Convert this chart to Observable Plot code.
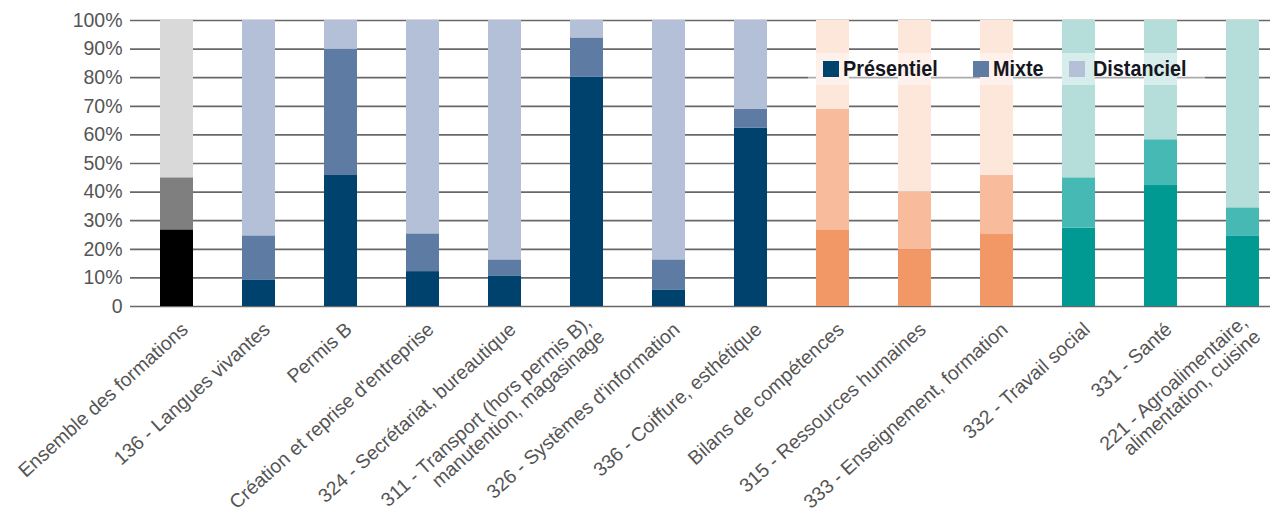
<!DOCTYPE html>
<html><head><meta charset="utf-8">
<script src="https://cdn.jsdelivr.net/npm/d3@7"></script>
<script src="https://cdn.jsdelivr.net/npm/@observablehq/plot@0.6"></script>
<style>
body{margin:0;background:#fff;}
#wrap{position:relative;width:1284px;height:521px;overflow:hidden;}
.legend{position:absolute;left:808px;top:53px;width:397px;height:32px;background:rgba(255,255,255,0.45);font-family:"Liberation Sans",Arial,sans-serif;font-weight:bold;font-size:22px;color:#15171f;}
.item{position:absolute;top:0;height:32px;display:flex;align-items:center;white-space:nowrap;}
.sw{width:16px;height:16px;margin-right:4px;flex:none;}
.tx{display:inline-block;transform:scaleX(0.9);transform-origin:left center;}
</style></head><body><div id="wrap"></div>
<script>
const categories = [
  "Ensemble des formations",
  "136 - Langues vivantes",
  "Permis B",
  "Création et reprise d'entreprise",
  "324 - Secrétariat, bureautique",
  "311 - Transport (hors permis B),\nmanutention, magasinage",
  "326 - Systèmes d'information",
  "336 - Coiffure, esthétique",
  "Bilans de compétences",
  "315 - Ressources humaines",
  "333 - Enseignement, formation",
  "332 - Travail social",
  "331 - Santé",
  "221 - Agroalimentaire,\nalimentation, cuisine"
];
const families = ["ensemble","bleu","bleu","bleu","bleu","bleu","bleu","bleu","orange","orange","orange","vert","vert","vert"];
const modes = ["Présentiel", "Mixte", "Distanciel"];
const presentiel = [26.8, 9.3, 45.8, 12.2, 10.7, 80.2, 5.8, 62.4, 26.8, 19.9, 25.4, 27.4, 42.3, 24.7];
const mixte      = [18.2, 15.4, 44.1, 13.2, 5.6, 13.7, 10.5, 6.5, 42.1, 20.1, 20.4, 17.6, 16.0, 9.8];
const distanciel = [55.0, 75.3, 10.1, 74.6, 83.7, 6.1, 83.7, 31.1, 31.1, 60.0, 54.2, 55.0, 41.7, 65.5];
const yTicks = [0, 10, 20, 30, 40, 50, 60, 70, 80, 90, 100];
const yTickLabels = ["0", "10%", "20%", "30%", "40%", "50%", "60%", "70%", "80%", "90%", "100%"];

const palette = {
  ensemble: ["#000000", "#7f7f7f", "#d9d9d9"],
  bleu: ["#00426e", "#5e7ca3", "#b4bfd8"],
  orange: ["#f29766", "#f8bc9c", "#fde6da"],
  vert: ["#009a92", "#47b9b4", "#b5dedb"]
};

const series = [presentiel, mixte, distanciel];
const table = [];
categories.forEach((c, i) => {
  modes.forEach((m, j) => {
    table.push({cat: c, mode: m, value: series[j][i], color: palette[families[i]][j]});
  });
});

const font = `"Liberation Sans", Arial, sans-serif`;

const chart = Plot.plot({
  width: 1284,
  height: 521,
  marginTop: 20,
  marginBottom: 215,
  marginLeft: 130,
  marginRight: 14,
  style: {fontFamily: font, background: "#fff"},
  x: {type: "band", domain: categories, paddingInner: 0.6, paddingOuter: 0, insetLeft: 26, insetRight: 7, label: null},
  y: {domain: [0, 100], label: null},
  color: {type: "identity"},
  marks: [
    Plot.ruleY(yTicks, {stroke: "#686868", strokeWidth: 1.7}),
    Plot.barY(table, {x: "cat", y: "value", fill: "color", order: null}),
    Plot.axisY(yTicks, {
      tickSize: 0, tickPadding: 8,
      tickFormat: (d) => yTickLabels[yTicks.indexOf(d)],
      fontSize: 19.5, fill: "#555", label: null
    }),
    Plot.axisX({
      tickSize: 0, tickRotate: -42, tickPadding: 0,
      fontSize: 19.5, fill: "#555", label: null,
      dx: 8, dy: 20
    })
  ]
});

document.getElementById("wrap").appendChild(chart);

const legend = document.createElement("div");
legend.className = "legend";
const legendLeft = [15, 165, 261];
modes.forEach((m, j) => {
  const it = document.createElement("div");
  it.className = "item";
  it.style.left = legendLeft[j] + "px";
  const sw = document.createElement("span");
  sw.className = "sw";
  sw.style.background = palette.bleu[j];
  if (j === 2) sw.style.marginRight = "8px";
  const tx = document.createElement("span");
  tx.className = "tx";
  tx.textContent = m;
  it.appendChild(sw); it.appendChild(tx);
  legend.appendChild(it);
});
document.getElementById("wrap").appendChild(legend);
</script>
</body></html>
